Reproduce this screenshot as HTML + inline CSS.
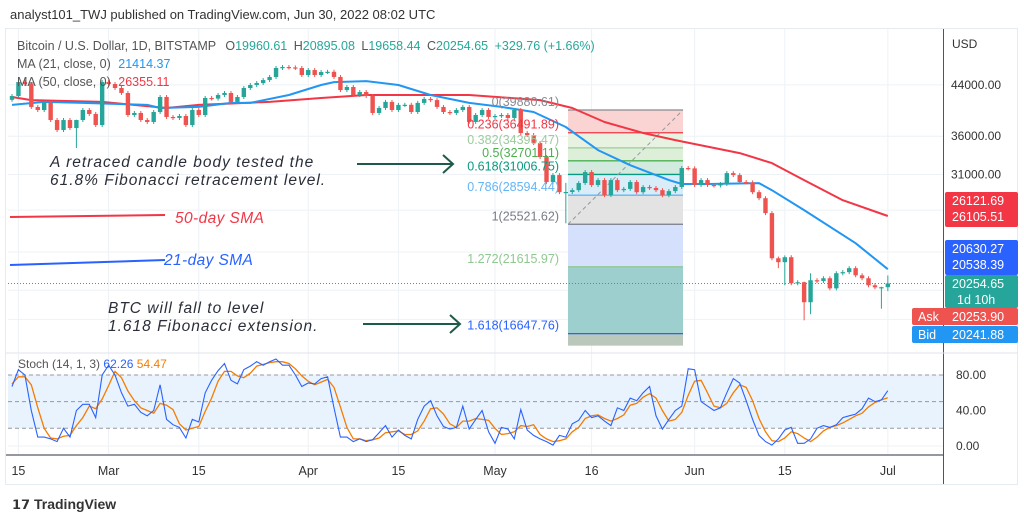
<!DOCTYPE html>
<html><head><meta charset="utf-8"><style>
html,body{margin:0;padding:0;background:#fff;}
body{width:1024px;height:523px;overflow:hidden;font-family:"Liberation Sans",sans-serif;position:relative;}
#title{position:absolute;left:10px;top:7px;font-size:13px;color:#333;}
#logo{position:absolute;left:12px;top:496px;font-size:14px;color:#333;font-weight:bold;}
svg{position:absolute;left:0;top:0;}
</style></head><body>
<div id="title">analyst101_TWJ published on TradingView.com, Jun 30, 2022 08:02 UTC</div>
<div id="logo"><span style="font-size:13px">𝟭𝟳</span> TradingView</div>
<svg id="chart" width="1024" height="523"></svg>
<script>
// ---- data ----
const dateTicks = ["15","Mar","15","Apr","15","May","16","Jun","15","Jul"];
const dateTickIdx = [1,15,29,46,60,75,90,106,120,136];
const firstOpen = 41500;
const closes = [42120,44480,44140,40360,39880,41000,38350,36880,38350,37170,
38350,39880,39270,37610,44480,44140,43460,42620,39110,39420,
38350,38060,39570,41960,38810,38660,38960,37610,39880,39110,
41800,41700,42290,42620,41160,41960,43460,43970,44310,44830,
45370,46990,47170,47100,46990,45720,46620,45720,46260,46300,
45370,43110,43630,42290,42780,42120,39420,40200,41160,39880,
40680,40700,39570,41000,41640,41460,40360,39570,39420,39880,
40360,38060,39110,39880,38810,38960,39110,38660,39880,36450,
36170,35050,33180,30100,30930,28930,28950,29160,29980,31300,
29750,30330,28600,30330,29160,29300,30100,28930,29520,29410,
29160,28600,29050,29520,31790,31750,29750,30330,29750,29700,
29870,31170,30930,30100,30050,28930,28260,26660,22350,22010,
22440,20270,20350,18820,20510,20450,20670,19870,21080,21170,
21500,20910,20670,20110,19950,19960,20254.65];
const wickIdx  = [10,86,119,120,123,124,135,136];
const wickHigh = [38400,30000,22500,22600,20400,21080,20000,20895.08];
const wickLow  = [34370,25620,21500,20110,17540,17960,18350,19658.44];
const ma21Idx = [0,5,11,16,21,23,29,34,37,43,48,50,55,60,65,71,76,81,86,91,96,102,104,108,116,118,123,131,136];
const ma21Val = [40680,41160,41000,40840,40680,40200,40360,41000,41000,42290,43970,44480,44650,43970,42290,41000,40360,39570,37320,34100,32150,30330,29870,29870,29980,29160,26970,23700,21414.37];
const ma50Idx = [0,3,14,24,29,40,48,55,71,82,87,92,98,103,113,118,123,129,136];
const ma50Val = [41960,41460,41160,40200,40680,41160,41800,42290,42290,41460,40200,38060,36450,35460,33700,32410,30330,28040,26355.11];
const fibRatios = [0,0.236,0.382,0.5,0.618,0.786,1,1.272,1.618];
const fibPrices = [39880.61,36491.89,34395.47,32701.11,31006.75,28594.44,25521.62,21615.97,16647.76];
const stochK = [67,86,80,40,10,10,8,5,20,10,40,47,47,32,80,91,80,60,45,47,38,34,40,69,30,24,21,9,30,27,60,74,85,93,74,70,86,90,95,91,95,98,91,91,80,67,71,70,76,78,43,10,10,5,8,5,7,15,23,10,18,12,8,30,45,51,34,22,19,21,45,19,30,40,16,3,21,19,8,41,18,12,8,5,1,12,10,25,29,40,32,34,28,23,43,40,54,51,60,67,34,19,30,40,45,87,86,50,45,40,43,60,76,71,51,30,12,5,1,8,18,21,3,3,8,20,23,21,24,32,34,36,42,54,50,52,62.26];
const stochD = [70,78,78,69,43,20,9,8,11,12,23,32,45,42,53,68,84,77,62,51,43,40,37,48,46,41,25,18,20,22,39,54,73,84,84,79,77,82,90,92,94,95,95,93,87,79,73,69,72,75,66,44,21,8,8,6,7,9,15,16,17,13,13,17,28,42,43,36,25,21,28,28,31,30,29,20,13,14,16,23,22,24,13,8,5,6,8,16,21,31,34,35,31,28,31,35,46,48,55,59,54,40,28,30,38,57,73,74,60,45,43,48,60,69,66,51,31,16,6,5,9,16,14,9,5,10,17,21,23,26,30,34,37,44,49,52,54.47];
const priceTicks = [44000,36000,31000];
const gridPrices = [44000,36000,31000,26970,22900,19720,17600];
const stochTicks = [80,40,0];

// ---- scales ----
const X0=12, DX=6.44, LN0=Math.log(39880.61), PY0=110, PK=256;
function xOf(i){return X0+i*DX;}
function yOf(p){return PY0+(LN0-Math.log(p))*PK;}
function ySt(v){return 446-v*0.8875;}

const svg=document.getElementById('chart');
const NS='http://www.w3.org/2000/svg';
function mk(tag,attrs,parent){const e=document.createElementNS(NS,tag);for(const k in attrs)e.setAttribute(k,attrs[k]);(parent||svg).appendChild(e);return e;}
function txt(s,x,y,attrs,parent){const t=mk('text',Object.assign({x:x,y:y,'font-family':'Liberation Sans, sans-serif','font-size':12},attrs),parent);t.textContent=s;return t;}

// defs clip
const defs=mk('defs',{});
const cp=mk('clipPath',{id:'pclip'},defs);mk('rect',{x:8,y:28,width:935,height:324},cp);
const cs=mk('clipPath',{id:'sclip'},defs);mk('rect',{x:8,y:353,width:935,height:101},cs);

// frame
let e=mk('rect',{x:5.5,y:28.5,width:1012,height:456,fill:'none',stroke:'#e6ebf0'});



// grid
const grid=mk('g',{stroke:'#eef2f6','stroke-width':1});


gridPrices.forEach(p=>{mk('line',{x1:8,x2:943,y1:yOf(p),y2:yOf(p)},grid);});
dateTickIdx.forEach(i=>{mk('line',{x1:xOf(i),x2:xOf(i),y1:29,y2:455},grid);});
[ySt(80),ySt(40),ySt(0)].forEach(y=>mk('line',{x1:8,x2:943,y1:y,y2:y},grid));

// fib
const fib=mk('g',{'clip-path':'url(#pclip)'});


const fx1=568,fx2=683;
const zoneCols=['#f9d4d2','#e7f3e0','#ddefd9','#d3ebdf','#d9edf8','#e3e3e3','#d5e0fc','#9ecfcf'];
const lineCols=['#888a92','#f23645','#9ccc9c','#4caf50','#089981','#64b5f6','#787b86','#8fc98f','#2962ff'];
for(let k=0;k<fibPrices.length-1;k++){
  const r=mk('rect',{x:fx1,y:yOf(fibPrices[k]),width:fx2-fx1,height:yOf(fibPrices[k+1])-yOf(fibPrices[k]),fill:zoneCols[k]},fib);
  
  
}
const lastY=yOf(fibPrices[fibPrices.length-1]);
e=mk('rect',{x:fx1,y:lastY,width:fx2-fx1,height:12,fill:'#b9c8ba'},fib);


for(let k=0;k<fibPrices.length;k++){
  const y=yOf(fibPrices[k]);
  const l=mk('line',{x1:fx1,x2:fx2,y1:y,y2:y,stroke:lineCols[k],'stroke-width':1.3},fib);
  
  
}
e=mk('line',{x1:fx1,y1:yOf(fibPrices[6]),x2:fx2,y2:yOf(fibPrices[0]),stroke:'#9598a1','stroke-dasharray':'4,3','stroke-width':1},fib);



// current price dotted line
e=mk('line',{x1:8,x2:943,y1:yOf(closes[closes.length-1]),y2:yOf(closes[closes.length-1]),stroke:'#26a69a','stroke-dasharray':'1,2','stroke-width':1});



// MA lines
function maPath(idx,val){return idx.map((i,k)=>(k?'L':'M')+xOf(i).toFixed(1)+','+yOf(val[k]).toFixed(1)).join(' ');}
e=mk('path',{d:maPath(ma50Idx,ma50Val),fill:'none',stroke:'#f23645','stroke-width':2,'stroke-linejoin':'round','clip-path':'url(#pclip)'});


e=mk('path',{d:maPath(ma21Idx,ma21Val),fill:'none',stroke:'#2196f3','stroke-width':2,'stroke-linejoin':'round','clip-path':'url(#pclip)'});



// candles
const cg=mk('g',{'clip-path':'url(#pclip)'});


closes.forEach((c,i)=>{
  const o=i===0?firstOpen:closes[i-1];
  const up=c>=o, col=up?'#26a69a':'#ef5350';
  const yo=yOf(o), yc=yOf(c), top=Math.min(yo,yc), bot=Math.max(yo,yc);
  const w=wickIdx.indexOf(i);
  const yh=w>=0?yOf(wickHigh[w]):top-2, yl=w>=0?yOf(wickLow[w]):bot+2;
  const g=mk('g',{},cg);
  
  
  const x=xOf(i);
  mk('line',{x1:x,x2:x,y1:yh,y2:yl,stroke:col,'stroke-width':1},g);
  mk('rect',{x:x-2.2,y:top,width:4.4,height:Math.max(1.2,bot-top),fill:col},g);
});

// fib labels
const fl=mk('g',{'font-size':12});


fibPrices.forEach((p,k)=>{
  const t=txt(fibRatios[k]+'('+p.toFixed(2)+')',559,yOf(p)-4,{fill:lineCols[k],'text-anchor':'end','font-size':12.5},fl);
  
  
});

// annotations
const AS={'font-style':'italic','font-size':15.5,'letter-spacing':1,fill:'#2a2e39'};
const an=mk('g',{});


e=txt('A retraced candle body tested the',50,167,AS,an);


e=txt('61.8% Fibonacci retracement level.',50,185,AS,an);


e=txt('BTC will fall to level',108,313,AS,an);


e=txt('1.618 Fibonacci extension.',108,331,AS,an);


function arrow(x1,x2,y,name){const g=mk('g',{stroke:'#1e5a4a','stroke-width':2,fill:'none'});
  
  
  mk('line',{x1:x1,x2:x2,y1:y,y2:y},g);mk('path',{d:`M${x2-10},${y-9} L${x2},${y} L${x2-10},${y+9}`},g);}
arrow(357,453,164,'arrow-to-618');
arrow(363,460,324,'arrow-to-1618');
e=mk('line',{x1:10,x2:165,y1:217,y2:215,stroke:'#f23645','stroke-width':2});


e=txt('50-day SMA',175,223,{'font-style':'italic','font-size':15.5,'letter-spacing':0.4,fill:'#f23645'});


e=mk('line',{x1:10,x2:165,y1:265,y2:260,stroke:'#2962ff','stroke-width':2});


e=txt('21-day SMA',164,265,{'font-style':'italic','font-size':15.5,'letter-spacing':0.4,fill:'#2962ff'});



// legend header
const lg=mk('g',{'font-size':12.5});


const l1=txt('',17,50,{fill:'#555','font-size':12.5},lg);


l1.innerHTML='Bitcoin / U.S. Dollar, 1D, BITSTAMP <tspan dx="6">O</tspan><tspan fill="#26a69a">19960.61</tspan> <tspan dx="3">H</tspan><tspan fill="#26a69a">20895.08</tspan> <tspan dx="3">L</tspan><tspan fill="#26a69a">19658.44</tspan> <tspan dx="3">C</tspan><tspan fill="#26a69a">20254.65</tspan> <tspan dx="3" fill="#26a69a">+329.76 (+1.66%)</tspan>';
const l2=txt('',17,68,{fill:'#555','font-size':12.5},lg);


l2.innerHTML='MA (21, close, 0) <tspan dx="4" fill="#2196f3">21414.37</tspan>';
const l3=txt('',17,86,{fill:'#555','font-size':12.5},lg);


l3.innerHTML='MA (50, close, 0) <tspan dx="4" fill="#f23645">26355.11</tspan>';

// pane separators / axis
e=mk('line',{x1:943.5,x2:943.5,y1:29,y2:484,stroke:'#50535e','stroke-width':1});


e=mk('line',{x1:6,x2:1018,y1:353,y2:353,stroke:'#e0e3eb','stroke-width':1});


e=mk('line',{x1:6,x2:943,y1:455,y2:455,stroke:'#9598a1','stroke-width':2});



// price axis labels
e=txt('USD',952,48,{fill:'#333'});


priceTicks.forEach(p=>{const t=txt(p.toFixed(2),951,yOf(p)+4,{fill:'#333'});
  
  });
function tag(y,h,col,lines,name,x){const g=mk('g',{});
  
  
  x=x||945;
  mk('rect',{x:x,y:y,width:1018-x,height:h,rx:2,fill:col},g);
  lines.forEach((s,k)=>txt(s[0],s[1],y+13+k*16,{fill:'#fff','font-size':12.5},g));}
tag(192,35,'#f23645',[['26121.69',952],['26105.51',952]],'ma50-price-tag');
tag(240,35,'#2962ff',[['20630.27',952],['20538.39',952]],'ma21-price-tag');
tag(275,33,'#26a69a',[['20254.65',952],['1d 10h',957]],'last-price-tag');
const ask=mk('g',{});


mk('rect',{x:912,y:308,width:106,height:17,rx:2,fill:'#ef5350'},ask);
txt('Ask',918,321,{fill:'#fff','font-size':12.5},ask);txt('20253.90',952,321,{fill:'#fff','font-size':12.5},ask);
const bid=mk('g',{});


mk('rect',{x:912,y:326,width:106,height:17,rx:2,fill:'#2196f3'},bid);
txt('Bid',918,339,{fill:'#fff','font-size':12.5},bid);txt('20241.88',952,339,{fill:'#fff','font-size':12.5},bid);

// stoch pane
e=mk('rect',{x:8,y:ySt(80),width:935,height:ySt(20)-ySt(80),fill:'#e8f3fd'});


[80,50,20].forEach(v=>{const l=mk('line',{x1:8,x2:943,y1:ySt(v),y2:ySt(v),stroke:'#9598a1','stroke-dasharray':'4,3'});
  
  });
function stPath(arr){return arr.map((v,i)=>(i?'L':'M')+xOf(i).toFixed(1)+','+ySt(v).toFixed(1)).join(' ');}
e=mk('path',{d:stPath(stochD),fill:'none',stroke:'#f57c00','stroke-width':1.3,'clip-path':'url(#sclip)'});


e=mk('path',{d:stPath(stochK),fill:'none',stroke:'#2962ff','stroke-width':1.1,'clip-path':'url(#sclip)'});


const sl=txt('',18,368,{fill:'#555','font-size':12},null);


sl.innerHTML='Stoch (14, 1, 3) <tspan fill="#2962ff">62.26</tspan> <tspan fill="#f57c00">54.47</tspan>';
stochTicks.forEach(v=>{const t=txt(v.toFixed(2),956,ySt(v)+4,{fill:'#333'});
  
  });

// time axis labels
dateTicks.forEach((s,k)=>{const t=txt(s,xOf(dateTickIdx[k]),475,{fill:'#333','text-anchor':'middle','font-size':12.5});
  
  });
</script>
</body></html>
